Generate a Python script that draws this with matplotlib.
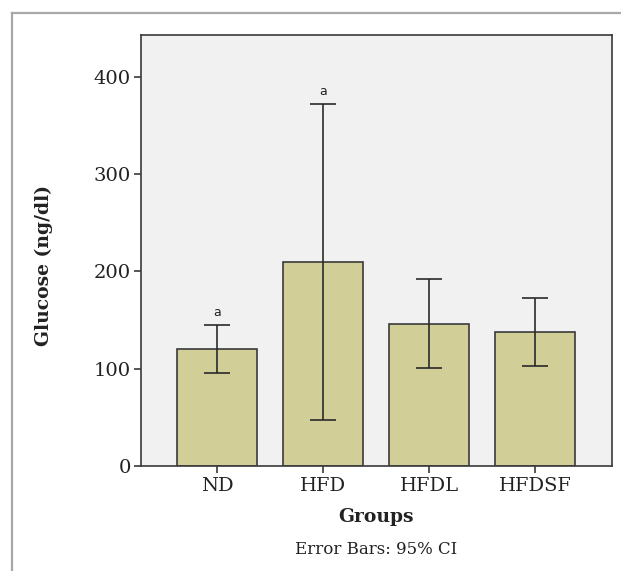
import numpy as np
import matplotlib
matplotlib.use("Agg")
import matplotlib.pyplot as plt
from matplotlib.lines import Line2D

groups = ["ND", "HFD", "HFDL", "HFDSF"]
means = [120, 210, 146, 138]
ci_low = [96, 47, 101, 103]
ci_high = [145, 372, 192, 173]
letters = ["a", "a", "", ""]

W, H = 621, 571
fig = plt.figure(figsize=(W / 100, H / 100), dpi=100)
fig.patch.set_facecolor("white")

# grey frame of the original figure (left + top only)
fig.add_artist(Line2D([12 / W, 12 / W], [0, 1 - 13 / H], color="#a8a8a8", lw=1.6))
fig.add_artist(Line2D([12 / W, 1], [1 - 13 / H, 1 - 13 / H], color="#a8a8a8", lw=1.6))

ax = fig.add_axes([140.5 / W, 1 - 466 / H, (612 - 140.5) / W, (466 - 35) / H])
ax.set_facecolor("#f1f1f1")

x = np.arange(len(groups))
means = np.array(means)
yerr = np.array([means - np.array(ci_low), np.array(ci_high) - means])

ax.bar(x, means, width=0.755, color="#d2ce98", edgecolor="#3a3a3a", linewidth=1.2, zorder=2)
ax.errorbar(x, means, yerr=yerr, fmt="none", ecolor="#2a2a2a", elinewidth=1.2,
            capsize=9.5, capthick=1.2, zorder=3)

for xi, hi, lab in zip(x, ci_high, letters):
    if lab:
        ax.text(xi, hi + 6, lab, ha="center", va="bottom", fontsize=9,
                family="DejaVu Sans", color="#222222")

ax.set_xlim(-0.726, 3.726)
ax.set_ylim(0, 443)
ax.set_yticks([0, 100, 200, 300, 400])
ax.set_xticks(x)
ax.set_xticklabels(groups)

for s in ax.spines.values():
    s.set_color("#3a3a3a")
    s.set_linewidth(1.2)

ax.tick_params(axis="both", direction="out", length=5, width=1.2, color="#3a3a3a",
               labelsize=14, labelcolor="#222222")
for t in ax.get_xticklabels() + ax.get_yticklabels():
    t.set_family("DejaVu Serif")
ax.tick_params(axis="x", pad=3)
ax.tick_params(axis="y", pad=2)

fig.text(44 / W, 1 - 266 / H, "Glucose (ng/dl)", rotation=90, ha="center", va="center",
         fontsize=13.5, fontweight="bold", family="DejaVu Serif", color="#222222")
fig.text(376 / W, 1 - 517 / H, "Groups", ha="center", va="center",
         fontsize=13.5, fontweight="bold", family="DejaVu Serif", color="#222222")
fig.text(376 / W, 1 - 549 / H, "Error Bars: 95% CI", ha="center", va="center",
         fontsize=12, family="DejaVu Serif", color="#222222")

fig.savefig("out.png", dpi=100)
